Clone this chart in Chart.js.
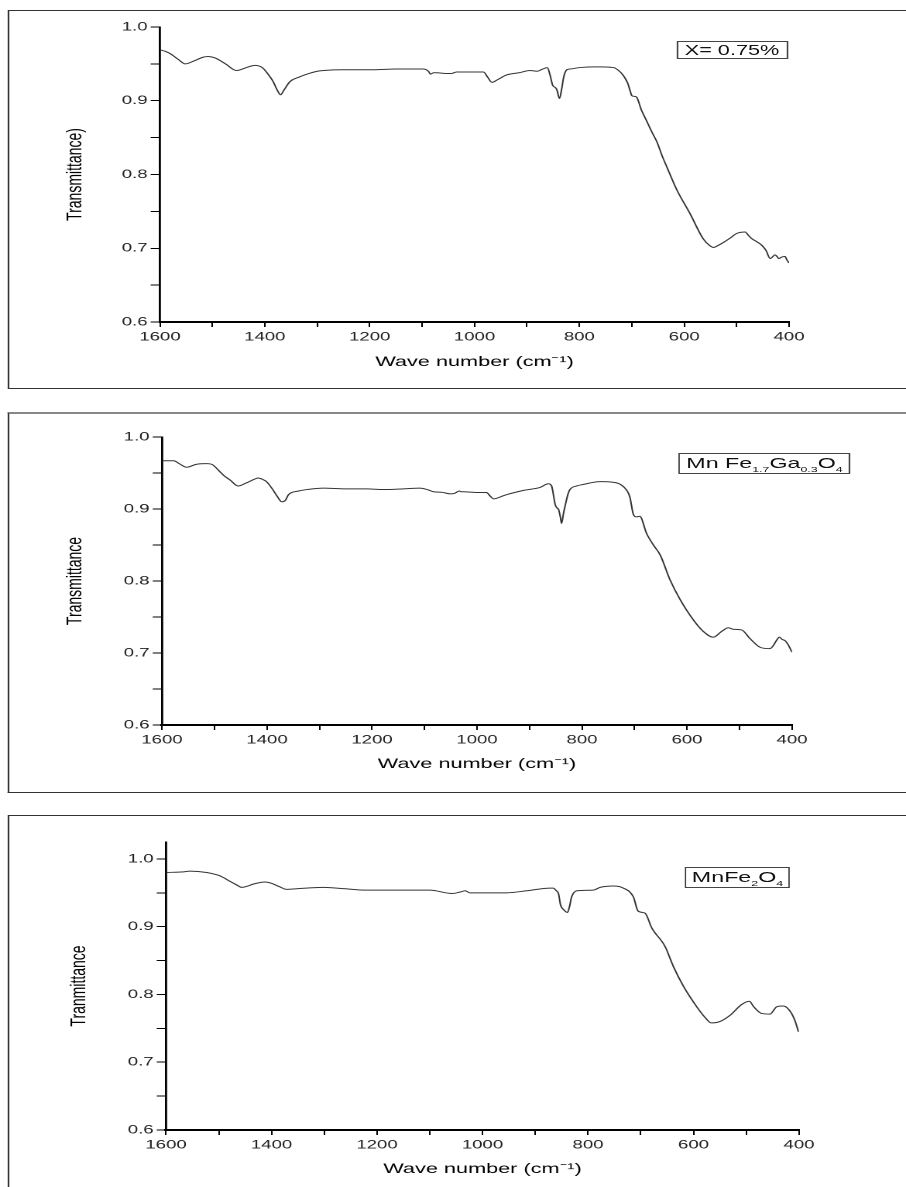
<!DOCTYPE html>
<html>
<head>
<meta charset="utf-8">
<script src="https://cdn.jsdelivr.net/npm/chart.js"></script>
<style>
  body { margin: 0; width: 906px; height: 1187px; overflow: hidden; background: #fff; font-family: "Liberation Sans", Arial, sans-serif; }
  /* the whole figure is a horizontally stretched picture, so draw it narrow and stretch it */
  #wrap { position: absolute; left: 0; top: 0; width: 585px; height: 1187px; transform: scaleX(1.54872); transform-origin: 0 0; }
  .frame { position: absolute; left: 5.2px; width: 700px; border: 1px solid #333; box-sizing: border-box; }
  canvas { position: absolute; left: 0; }
  .tag { position: absolute; border: 1px solid #444; box-sizing: border-box; text-align: center; color: #111; white-space: nowrap; }
  .tag sub { font-size: 8px; vertical-align: -4px; line-height: 0; }
</style>
</head>
<body>
<div id="wrap">
  <div class="frame" style="top:10px; height:379px;"></div>
  <div class="frame" style="top:412px; height:381px; border-top:2px solid #888;"></div>
  <div class="frame" style="top:815px; height:400px;"></div>

  <canvas id="c1" width="585" height="395" style="top:0px"></canvas>
  <canvas id="c2" width="585" height="395" style="top:400px"></canvas>
  <canvas id="c3" width="585" height="382" style="top:805px"></canvas>

  <div class="tag" style="left:436.5px; top:40.5px; width:72.3px; height:18px; font-size:14px; line-height:16px;">X= 0.75%</div>
  <div class="tag" style="left:437.8px; top:453px; width:111.7px; height:20.5px; font-size:15px; line-height:17px;">Mn Fe<sub>1.7</sub>Ga<sub>0.3</sub>O<sub>4</sub></div>
  <div class="tag" style="left:442.3px; top:867px; width:67.8px; height:21px; font-size:15px; line-height:18px;">MnFe<sub>2</sub>O<sub>4</sub></div>
</div>

<script>
// x = 0.75 %
let wave1 = [1600, 1590, 1581, 1565, 1552, 1535, 1518, 1508, 1495, 1475, 1454, 1435, 1419, 1405, 1396, 1385, 1376, 1370, 1364, 1352, 1335, 1320, 1300, 1288, 1250, 1193, 1150, 1098, 1088, 1084, 1078, 1072, 1055, 1044, 1034, 1010, 983, 975, 967, 955, 939, 915, 894, 881, 870, 861, 856, 851, 846, 843, 838, 834, 830, 824, 818, 799, 767, 735, 722, 715, 708, 703, 700, 696, 691, 682, 672, 662, 652, 642, 633, 614, 589, 564, 552, 544, 535, 525, 512, 500, 484, 477, 471, 462, 452, 444, 436, 432, 427, 422, 420, 414, 408, 404, 400]
let trans1 = [0.969, 0.967, 0.964, 0.956, 0.950, 0.954, 0.959, 0.960, 0.958, 0.950, 0.941, 0.945, 0.948, 0.945, 0.938, 0.927, 0.914, 0.908, 0.914, 0.926, 0.932, 0.936, 0.940, 0.941, 0.942, 0.942, 0.943, 0.943, 0.940, 0.936, 0.938, 0.938, 0.937, 0.937, 0.939, 0.939, 0.939, 0.932, 0.925, 0.929, 0.935, 0.938, 0.941, 0.940, 0.943, 0.945, 0.935, 0.921, 0.918, 0.915, 0.903, 0.915, 0.932, 0.942, 0.943, 0.945, 0.946, 0.945, 0.939, 0.933, 0.924, 0.913, 0.907, 0.906, 0.905, 0.888, 0.873, 0.858, 0.844, 0.825, 0.810, 0.779, 0.747, 0.713, 0.704, 0.701, 0.704, 0.708, 0.714, 0.720, 0.722, 0.717, 0.713, 0.709, 0.704, 0.697, 0.686, 0.688, 0.691, 0.688, 0.686, 0.688, 0.689, 0.684, 0.680]

// Mn Fe1.7 Ga0.3 O4
let wave2 = [1600, 1578, 1565, 1553, 1535, 1515, 1505, 1490, 1483, 1470, 1455, 1440, 1425, 1417, 1408, 1401, 1390, 1380, 1372, 1365, 1359, 1340, 1324, 1293, 1250, 1210, 1178, 1140, 1109, 1095, 1083, 1065, 1051, 1042, 1034, 1030, 1026, 1000, 982, 975, 968, 955, 943, 910, 880, 864, 858, 851, 847, 845, 841, 839, 835, 832, 827, 823, 810, 798, 766, 740, 721, 709, 702, 696, 690, 677, 664, 651, 632, 613, 588, 569, 550, 534, 521, 512, 496, 480, 461, 442, 436, 430, 424, 419, 413, 407, 400]
let trans2 = [0.967, 0.967, 0.962, 0.958, 0.962, 0.963, 0.962, 0.952, 0.947, 0.940, 0.932, 0.936, 0.941, 0.943, 0.941, 0.938, 0.928, 0.917, 0.910, 0.912, 0.920, 0.925, 0.927, 0.929, 0.928, 0.928, 0.927, 0.928, 0.929, 0.927, 0.924, 0.923, 0.921, 0.922, 0.925, 0.924, 0.924, 0.923, 0.923, 0.918, 0.914, 0.917, 0.920, 0.926, 0.930, 0.935, 0.932, 0.906, 0.901, 0.900, 0.888, 0.880, 0.895, 0.905, 0.920, 0.927, 0.932, 0.934, 0.938, 0.937, 0.931, 0.917, 0.892, 0.889, 0.890, 0.866, 0.850, 0.836, 0.801, 0.774, 0.746, 0.730, 0.722, 0.730, 0.735, 0.733, 0.732, 0.720, 0.708, 0.706, 0.710, 0.717, 0.722, 0.719, 0.717, 0.711, 0.701]

// MnFe2O4
let wave3 = [1600, 1567, 1555, 1523, 1501, 1490, 1479, 1467, 1456, 1445, 1434, 1412, 1400, 1385, 1371, 1352, 1302, 1260, 1220, 1144, 1100, 1058, 1043, 1033, 1024, 954, 916, 872, 866, 860, 856, 852, 846, 839, 835, 831, 821, 790, 777, 752, 733, 714, 705, 692, 679, 654, 638, 619, 594, 578, 566, 550, 531, 509, 494, 486, 471, 455, 442, 430, 422, 414, 407, 401]
let trans3 = [0.980, 0.981, 0.982, 0.980, 0.976, 0.972, 0.967, 0.962, 0.958, 0.960, 0.963, 0.966, 0.964, 0.959, 0.955, 0.956, 0.958, 0.956, 0.954, 0.954, 0.954, 0.949, 0.951, 0.953, 0.950, 0.950, 0.953, 0.957, 0.957, 0.953, 0.949, 0.932, 0.925, 0.921, 0.930, 0.944, 0.953, 0.954, 0.958, 0.960, 0.957, 0.944, 0.923, 0.920, 0.898, 0.871, 0.841, 0.812, 0.782, 0.766, 0.758, 0.760, 0.769, 0.785, 0.790, 0.782, 0.772, 0.771, 0.782, 0.783, 0.780, 0.772, 0.760, 0.745]

let xTitle = "Wave number (cm\u207B\u00B9)"
let yTitles = ["Transmittance)", "Transmittance", "Tranmittance"]
let yTops = [1.0, 1.0, 1.025]


function makeChart(id, xs, ys, yTitle, yTop, box) {

    let points = xs.map((x, i) => ({ x: x, y: ys[i] }));

    return new Chart(document.getElementById(id), {
        type: "line",
        data: {
            datasets: [{
                data: points,
                borderColor: "#333",
                borderWidth: 1,
                pointRadius: 0,
                cubicInterpolationMode: "monotone",
            }],
        },
        options: {
            responsive: false,
            animation: false,
            devicePixelRatio: 2,
            layout: { padding: { left: box.l, right: box.r, top: box.t, bottom: box.b } },
            plugins: { legend: { display: false }, tooltip: { enabled: false } },
            scales: {
                x: {
                    type: "linear",
                    reverse: true,
                    min: 400,
                    max: 1600,
                    afterFit: (s) => { s.height = box.xh; },
                    border: { display: true, color: "#000", width: 2 },
                    grid: { drawOnChartArea: false, tickLength: 5, color: "#000" },
                    ticks: {
                        stepSize: 100,
                        autoSkip: false,
                        maxRotation: 0,
                        padding: 3,
                        color: "#222",
                        font: { family: "Liberation Sans", size: 12 },
                        callback: (v) => (v % 200 === 0 ? String(v) : ""),
                    },
                    title: {
                        display: true,
                        text: xTitle,
                        color: "#000",
                        padding: 0,
                        font: { family: "Liberation Sans", size: 14 },
                    },
                },
                y: {
                    min: 0.6,
                    max: yTop,
                    afterFit: (s) => { s.width = box.yw; },
                    afterBuildTicks: (s) => { s.ticks = s.ticks.filter((t) => t.value <= 1.0001); },
                    border: { display: true, color: "#000", width: 1.4 },
                    grid: { drawOnChartArea: false, tickLength: 6, color: "#000" },
                    ticks: {
                        stepSize: 0.05,
                        padding: 2,
                        color: "#222",
                        font: { family: "Liberation Sans", size: 12 },
                        callback: (v) => (Math.abs(v * 10 - Math.round(v * 10)) < 1e-6 ? v.toFixed(1) : ""),
                    },
                    title: {
                        display: true,
                        text: yTitle,
                        color: "#000",
                        padding: 0,
                        font: { family: "Liberation Sans", size: 14 },
                    },
                },
            },
        },
    });
}


makeChart("c1", wave1, trans1, yTitles[0], yTops[0], { l: 40, yw: 63.3, r: 75.5, t: 27, b: 24.6, xh: 48.4 });
makeChart("c2", wave2, trans2, yTitles[1], yTops[1], { l: 40, yw: 64.6, r: 73.6, t: 37, b: 22.6, xh: 47.4 });
makeChart("c3", wave3, trans3, yTitles[2], yTops[2], { l: 42.6, yw: 64.6, r: 69.1, t: 37, b: 9.6, xh: 47.4 });
</script>
</body>
</html>
